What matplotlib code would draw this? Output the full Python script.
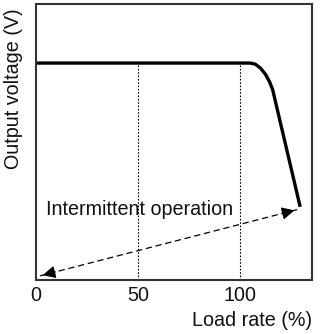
import matplotlib
matplotlib.use("Agg")
import matplotlib.pyplot as plt

plt.rcParams['font.family'] = ['Liberation Sans', 'DejaVu Sans']

# output characteristic (load rate %, relative voltage)
load_rate = [0, 105, 107.5, 110, 112.5, 114.5, 116, 129.5]
voltage = [78.6, 78.6, 78.2, 76.8, 74.5, 71.8, 69, 26.5]

grid_x = [50, 100]
xticks = [0, 50, 100]
arrow_a = (128, 25.5)
arrow_b = (2, 1.5)

fs = 14.2

fig = plt.figure(figsize=(3.2, 3.34), dpi=100)
ax = fig.add_axes([36 / 320, 54 / 334, 276 / 320, 276 / 334])

ax.plot(load_rate, voltage, color='black', lw=2.4, solid_capstyle='butt')

for gx in grid_x:
    ax.plot([gx, gx], [0, voltage[0]], color='black', lw=0.8, ls=(0, (1.5, 1.5)))

# dashed double arrow
ax.plot([arrow_a[0], arrow_b[0]], [arrow_a[1], arrow_b[1]], color='black', lw=0.9, ls=(0, (5, 3)))
for tip, other in [(arrow_a, arrow_b), (arrow_b, arrow_a)]:
    back = (tip[0] + (other[0] - tip[0]) * 0.07, tip[1] + (other[1] - tip[1]) * 0.07)
    ax.annotate('', xy=tip, xytext=back,
                arrowprops=dict(arrowstyle='-|>', mutation_scale=19, color='black', lw=0.9))

ax.text(4.8, 25.5, 'Intermittent operation', fontsize=fs, va='center', ha='left', color='#111111')

ax.set_xlim(0, 135.3)
ax.set_ylim(0, 100)
ax.set_xticks(xticks)
ax.set_xticklabels([str(t) for t in xticks], fontsize=fs, color='#111111')
ax.set_yticks([])
ax.tick_params(axis='x', length=0, pad=4)
for s in ax.spines.values():
    s.set_color('#333333')
    s.set_linewidth(1.5)

fig.text(312 / 320, 14 / 334, 'Load rate (%)', fontsize=fs, ha='right', va='center', color='#111111')
fig.text(14 / 320, 1 - 8 / 334, 'Output voltage (V)', fontsize=fs, rotation=90, ha='center', va='top',
         color='#111111')

fig.savefig('out.png', dpi=100)
